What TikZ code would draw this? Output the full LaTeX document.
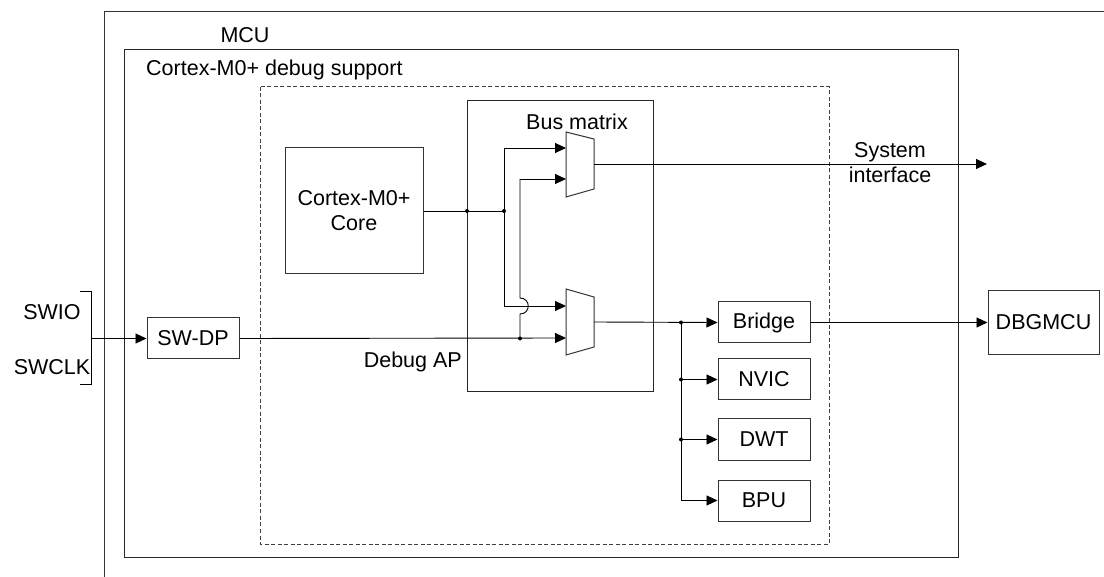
\documentclass[tikz,border=0pt]{standalone}
\usepackage{fontspec}
\setmainfont{Liberation Sans}
\usetikzlibrary{arrows.meta}
\begin{document}
\begin{tikzpicture}[x=1pt,y=-1pt,
  font=\fontsize{21.5}{25}\selectfont,
  box/.style={draw=black!80,line width=1pt,fill=white,inner sep=0pt},
  conn/.style={draw=black,line width=0.9pt},
  arr/.style={conn,-{Triangle[length=11pt,width=10pt]}},
  dot/.style={circle,fill=black,inner sep=0pt,minimum size=4pt},
  lbl/.style={inner sep=0pt}]
\useasboundingbox (0,0) rectangle (1104,577);
% MCU outer (open to the right and bottom)
\draw[black!80,line width=1pt] (1104,12) -- (104,12) -- (104,577);
\node[lbl] (mculbl) at (245,35) {MCU};
% debug support box
\draw[black!85,line width=1pt] (124,50) rectangle (958,557);
\node[lbl,anchor=west] (dbglbl) at (146,70) {Cortex-M0+ debug support};
% dashed region
\draw[black!75,line width=1pt,dash pattern=on 4pt off 2.5pt] (260,87) rectangle (829,544);
% bus matrix
\draw[black!85,line width=1pt] (467,101) rectangle (653,392);
\node[lbl] (bmlbl) at (577,122) {Bus matrix};
% muxes
\draw[black!80,line width=1pt,fill=white] (566,132) -- (594,139) -- (594,189) -- (566,197) -- cycle;
\draw[black!80,line width=1pt,fill=white] (566,289) -- (594,297) -- (594,347) -- (566,355) -- cycle;
\coordinate (m1a) at (566,148);
\coordinate (m1b) at (566,179);
\coordinate (m1o) at (594,164);
\coordinate (m2a) at (566,306);
\coordinate (m2b) at (566,338);
\coordinate (m2o) at (594,322);
% boxes
\node[box,minimum width=138pt,minimum height=126pt,align=center] (core) at (354,211) {Cortex-M0+\\Core};
\node[box,minimum width=92pt,minimum height=41pt] (swdp) at (193,338.5) {SW-DP};
\node[box,minimum width=92pt,minimum height=41pt] (bridge) at (764,322.5) {Bridge};
\node[box,minimum width=92pt,minimum height=41pt] (nvic) at (764,379.5) {NVIC};
\node[box,minimum width=92pt,minimum height=41pt] (dwt) at (764,439.5) {DWT};
\node[box,minimum width=92pt,minimum height=41pt] (bpu) at (764,500.5) {BPU};
\node[box,minimum width=111pt,minimum height=64pt] (dbgmcu) at (1043.5,322.5) {DBGMCU};
% labels
\node[lbl,align=center] (sysif) at (890,163) {System\\interface};
\node[lbl,anchor=east] (dap) at (462,362) {Debug AP};
\node[lbl] (swio) at (52,312) {SWIO};
\node[lbl] (swclk) at (52,367) {SWCLK};
% bracket
\draw[conn] (80,291) -- (91,291) -- (91,384) -- (80,384);
\coordinate (br) at (91,338.5);
\draw[arr] (br) -- (swdp.west);
% core to bus matrix
\coordinate (j1) at (467,211);
\coordinate (j2) at (504,211);
\draw[conn] (core.east) -- (j2);
\draw[arr] (j2) |- (m1a);
\draw[arr] (j2) |- (m2a);
% debug AP
\coordinate (j3) at (520,338.5);
\draw[arr] (swdp.east) -- (m2b);
\draw[conn] (j3) -- (520,314) .. controls (531,314) and (531,298) .. (520,298) -- (520,179);
\draw[arr] (520,179) -- (m1b);
\node[dot] at (j1) {};
\node[dot] at (j2) {};
\node[dot] at (j3) {};
% system interface
\coordinate (sysend) at (987,164);
\draw[arr] (m1o) -- (sysend);
% mux2 to peripherals
\coordinate (t0) at (681,322.5);
\draw[arr] (m2o) -- (bridge.west);
\draw[arr] (t0) |- (bpu.west);
\draw[arr] (t0 |- nvic.west) -- (nvic.west);
\draw[arr] (t0 |- dwt.west) -- (dwt.west);
\node[dot] at (t0) {};
\node[dot] at (t0 |- nvic.west) {};
\node[dot] at (t0 |- dwt.west) {};
% bridge to DBGMCU
\draw[arr] (bridge.east) -- (dbgmcu.west);
\end{tikzpicture}
\end{document}
